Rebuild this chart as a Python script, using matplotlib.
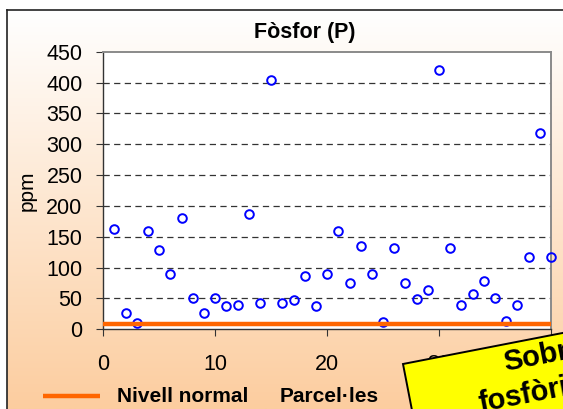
import numpy as np
import matplotlib
matplotlib.use("Agg")
import matplotlib.pyplot as plt
from matplotlib.patches import Polygon

plt.rcParams['font.family'] = ['Liberation Sans', 'DejaVu Sans']

# ---- data ----
parcel_x = list(range(1, 41))
phosphor_ppm = [162, 27, 10, 159, 129, 90, 180, 51, 27, 51,
                37, 39, 187, 42, 404, 42, 48, 87, 37, 90,
                159, 75, 135, 90, 12, 132, 75, 49, 63, 420,
                132, 40, 58, 78, 51, 13, 40, 118, 318, 118]
normal_level = 9
y_ticks = [0, 50, 100, 150, 200, 250, 300, 350, 400, 450]
x_ticks = [0, 10, 20, 30, 40]
title = "Fòsfor (P)"
y_label = "ppm"
legend_labels = ["Nivell normal", "Parcel·les"]
note_lines = ["Sobr", "fosfòri"]

W, H = 563, 409
fig = plt.figure(figsize=(W / 100, H / 100), dpi=100)
fig.patch.set_facecolor('white')

# background gradient panel
bg = fig.add_axes([0, 0, 1, 1], zorder=0)
bg.set_xlim(0, W)
bg.set_ylim(H, 0)
bg.axis('off')
top_c = np.array([255, 255, 255]) / 255
bot_c = np.array([252, 205, 159]) / 255
t = np.linspace(0, 1, 256)[:, None]
grad = (top_c[None, :] * (1 - t) + bot_c[None, :] * t)[:, None, :]
bg.imshow(grad, extent=(7, W, H, 10), aspect='auto', zorder=0)
bg.plot([7, W], [10, 10], color='#222222', lw=1.2, zorder=1)
bg.plot([7, 7], [10, H], color='#222222', lw=1.2, zorder=1)

# main axes
x0, x1, ytop, ybot = 103.3, 551.0, 51.7, 329.3
ax = fig.add_axes([x0 / W, (H - ybot) / H, (x1 - x0) / W, (ybot - ytop) / H], zorder=1)
ax.set_facecolor('white')
ax.set_xlim(0, 40)
ax.set_ylim(0, 450)
ax.set_xticks(x_ticks)
ax.set_yticks(y_ticks)
ax.tick_params(axis='both', direction='out', length=5, width=0.8, color='#333333',
               labelsize=15.5, labelcolor='black')
ax.tick_params(axis='y', pad=10)
ax.tick_params(axis='x', pad=13)
for s in ['left', 'bottom']:
    ax.spines[s].set_color('#333333')
    ax.spines[s].set_linewidth(1.0)
for s in ['top', 'right']:
    ax.spines[s].set_color('#8a8a8a')
    ax.spines[s].set_linewidth(1.4)

for yv in y_ticks[1:-1]:
    ax.axhline(yv, color='#333333', lw=0.9, linestyle=(0, (5, 3.5)), zorder=1)

ax.plot(parcel_x, phosphor_ppm, linestyle='none', marker='o', markersize=6.2,
        markerfacecolor='none', markeredgecolor='#0000ff', markeredgewidth=1.4,
        clip_on=False, zorder=3)
ax.axhline(normal_level, color='#ff6600', lw=3.2, zorder=4)

# overlay for texts, legend and note
ov = fig.add_axes([0, 0, 1, 1], zorder=5)
ov.set_xlim(0, W)
ov.set_ylim(H, 0)
ov.axis('off')
ov.patch.set_alpha(0)

ov.text(305, 38, title, ha='center', va='baseline', fontsize=15.5, fontweight='bold')
ov.text(27, 191, y_label, ha='center', va='center', rotation=90, fontsize=15)

# legend
ov.plot([43, 100], [396, 396], color='#ff6600', lw=3.2, solid_capstyle='butt')
ov.text(117, 397, legend_labels[0], ha='left', va='center', fontsize=15, fontweight='bold')
ov.text(280, 397, legend_labels[1], ha='left', va='center', fontsize=15, fontweight='bold')

# sticky note
ang = np.deg2rad(11)
ux = np.array([np.cos(ang), -np.sin(ang)])   # along top edge (pixel coords, y down)
uy = np.array([np.sin(ang), np.cos(ang)])    # down along left edge
p0 = np.array([403.0, 364.0])
Wn, Hn = 320, 220
corners = [p0, p0 + Wn * ux, p0 + Wn * ux + Hn * uy, p0 + Hn * uy]
ov.add_patch(Polygon(corners, closed=True, facecolor='#ffff00', edgecolor='black',
                     lw=1.4, zorder=6))
b1 = np.array([505.0, 371.0])
ov.text(b1[0], b1[1], note_lines[0], rotation=11, rotation_mode='anchor',
        ha='left', va='baseline', fontsize=21, fontweight='bold', zorder=7)
b2 = b1 + 36 * uy - 32 * ux
ov.text(b2[0], b2[1], note_lines[1], rotation=11, rotation_mode='anchor',
        ha='left', va='baseline', fontsize=21, fontweight='bold', zorder=7)

fig.savefig('out.png', dpi=100)
